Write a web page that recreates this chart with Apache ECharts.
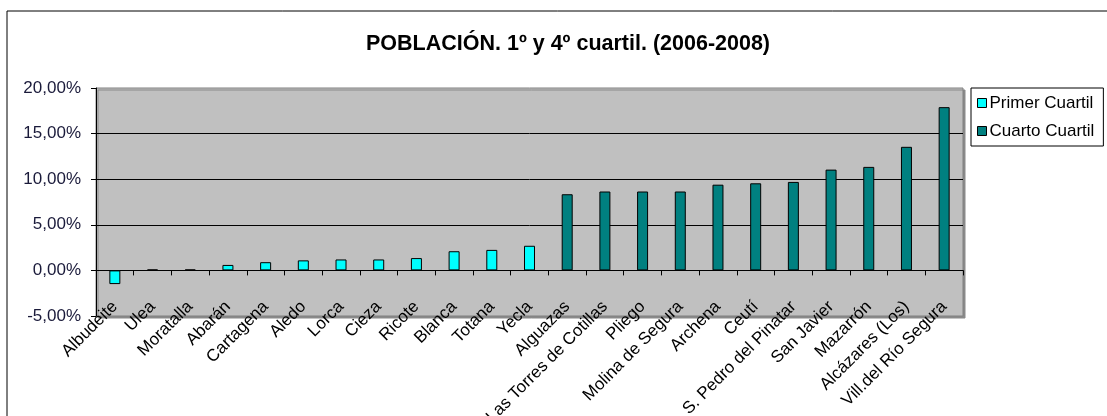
<!DOCTYPE html>
<html>
<head>
<meta charset="utf-8">
<title>Población 1º y 4º cuartil</title>
<script src="https://cdn.jsdelivr.net/npm/echarts@6/dist/echarts.min.js"></script>
<style>
  html, body { margin: 0; padding: 0; background: #fff; }
  #chart { width: 1107px; height: 416px; }
</style>
</head>
<body>
<div id="chart"></div>
<script>
// municipios ordenados por crecimiento
const municipios = [
  'Albudeite', 'Ulea', 'Moratalla', 'Abarán', 'Cartagena', 'Aledo', 'Lorca', 'Cieza',
  'Ricote', 'Blanca', 'Totana', 'Yecla', 'Alguazas', 'Las Torres de Cotillas', 'Pliego',
  'Molina de Segura', 'Archena', 'Ceutí', 'S. Pedro del Pinatar', 'San Javier',
  'Mazarrón', 'Alcázares (Los)', 'Vill.del Río Segura'
]

// valores en %
const primerCuartil = [
  -1.5, 0.1, 0.1, 0.6, 0.9, 1.1, 1.2, 1.2, 1.35, 2.1, 2.25, 2.7,
  null, null, null, null, null, null, null, null, null, null, null
]
const cuartoCuartil = [
  null, null, null, null, null, null, null, null, null, null, null, null,
  8.35, 8.65, 8.65, 8.65, 9.4, 9.55, 9.7, 11.05, 11.35, 13.55, 17.9
]

const yTicks = { min: -5, max: 20, interval: 5 }

const chart = echarts.init(document.getElementById('chart'))

const fmtPct = v => v.toFixed(2).replace('.', ',') + '%'

const option = {
  animation: false,
  textStyle: { fontFamily: 'Liberation Sans, Arial, sans-serif' },
  title: {
    text: 'POBLACIÓN. 1º y 4º cuartil. (2006-2008)',
    left: 563,
    textAlign: 'center',
    top: 28,
    textStyle: { fontSize: 21.5, fontWeight: 'bold', color: '#000' }
  },
  graphic: [
    {
      type: 'rect',
      shape: { x: 7, y: 11, width: 1110, height: 420 },
      style: { fill: 'none', stroke: '#000', lineWidth: 1 },
      silent: true,
      z: -10
    }
  ],
  legend: {
    orient: 'vertical',
    left: 971,
    top: 88,
    padding: [5, 9, 5, 6],
    itemGap: 8,
    itemWidth: 9,
    itemHeight: 9,
    backgroundColor: '#fff',
    borderColor: '#000',
    borderWidth: 1,
    icon: 'rect',
    itemStyle: { borderColor: '#000', borderWidth: 1 },
    textStyle: { fontSize: 17, lineHeight: 20, color: '#000', padding: [0, 0, 0, -2] },
    data: ['Primer Cuartil', 'Cuarto Cuartil']
  },
  grid: {
    left: 96,
    right: 144,
    top: 88,
    bottom: 100,
    outerBoundsMode: 'none',
    show: true,
    backgroundColor: '#C0C0C0',
    borderColor: '#808080',
    borderWidth: 1,
    shadowColor: '#8a8a8a',
    shadowOffsetX: 2,
    shadowOffsetY: 2,
    shadowBlur: 0
  },
  xAxis: [
    {
      type: 'category',
      data: municipios,
      position: 'bottom',
      axisLine: { show: false, onZero: false },
      axisTick: { show: false },
      axisLabel: {
        interval: 0,
        rotate: 45,
        margin: -12,
        fontSize: 17,
        color: '#000'
      }
    },
    {
      type: 'category',
      data: municipios,
      position: 'bottom',
      axisLine: { show: true, onZero: true, lineStyle: { color: '#000', width: 1 } },
      axisTick: { show: true, interval: 0, inside: false, length: 5, lineStyle: { color: '#000' } },
      axisLabel: { show: false, interval: 0 }
    }
  ],
  yAxis: {
    type: 'value',
    min: yTicks.min,
    max: yTicks.max,
    interval: yTicks.interval,
    axisLine: { show: true, lineStyle: { color: '#000' } },
    axisTick: { show: true, length: 5, lineStyle: { color: '#000' } },
    axisLabel: {
      fontSize: 17,
      color: '#1a1a3a',
      margin: 15,
      formatter: fmtPct
    },
    splitLine: {
      show: true,
      showMinLine: false,
      showMaxLine: false,
      lineStyle: { color: '#000', width: 1 }
    }
  },
  series: [
    {
      name: 'Primer Cuartil',
      type: 'bar',
      data: primerCuartil,
      barWidth: 11,
      barGap: '-100%',
      itemStyle: { color: '#00FFFF', borderColor: '#000', borderWidth: 1 }
    },
    {
      name: 'Cuarto Cuartil',
      type: 'bar',
      data: cuartoCuartil,
      barWidth: 11,
      barGap: '-100%',
      itemStyle: { color: '#008080', borderColor: '#000', borderWidth: 1 }
    }
  ]
}

chart.setOption(option)
</script>
</body>
</html>
